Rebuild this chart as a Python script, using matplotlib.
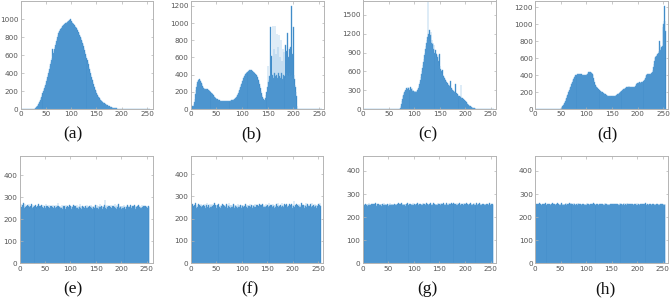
import matplotlib
matplotlib.use("Agg")
import matplotlib.pyplot as plt
import numpy as np

bins = list(range(256))

# (a)
a_counts = [0]*28 + [
    2, 5, 10, 15, 22, 28, 35, 42, 55, 65, 78, 90, 105, 120, 138, 155,
    178, 200, 218, 235, 255, 272, 290, 312, 335, 358, 380, 405, 428, 450, 475, 498,
    520, 540, 565, 665, 600, 620, 645, 668, 690, 712, 738, 758, 780, 800, 818, 840,
    852, 865, 878, 888, 895, 905, 912, 920, 925, 932, 940, 945, 948, 955, 960, 962,
    968, 972, 975, 978, 982, 990, 985, 998, 980, 975, 968, 960, 955, 948, 940, 932,
    925, 915, 908, 898, 888, 875, 862, 855, 840, 828, 812, 800, 788, 770, 752, 735,
    718, 700, 680, 660, 638, 615, 592, 570, 545, 522, 498, 472, 450, 425, 402, 380,
    358, 338, 318, 298, 278, 260, 242, 226, 210, 195, 180, 168, 157, 146, 137, 128,
    120, 112, 105, 99, 93, 88, 82, 77, 72, 68, 63, 59, 55, 51, 48, 44,
    41, 38, 35, 32, 29, 27, 24, 22, 20, 18, 16, 14, 13, 11, 10, 9,
    8, 7, 6, 5, 4, 4, 3, 3, 2, 2, 1, 1, 1] + [0]*55

# (b)
b_counts = [
    20, 25, 30, 32, 35, 40, 55, 80, 120, 170, 220, 260, 290, 315, 330, 340,
    345, 348, 340, 330, 315, 300, 285, 270, 258, 248, 240, 235, 232, 230, 232, 235,
    232, 228, 225, 222, 218, 212, 205, 198, 190, 183, 175, 168, 160, 152, 145, 138,
    132, 126, 120, 115, 111, 108, 105, 102, 100, 98, 96, 95, 94, 93, 92, 92,
    91, 91, 90, 90, 91, 92, 92, 93, 93, 94, 95, 96, 97, 98, 99, 100,
    101, 103, 105, 108, 112, 116, 120, 126, 133, 140, 150, 162, 175, 190, 205, 222,
    240, 258, 275, 292, 308, 325, 340, 355, 368, 380, 392, 402, 412, 420, 428, 435,
    440, 445, 448, 450, 452, 450, 448, 445, 440, 435, 430, 425, 418, 412, 405, 398,
    390, 380, 368, 352, 335, 315, 292, 268, 242, 215, 190, 165, 145, 128, 115, 105,
    100, 110, 130, 160, 200, 260, 500, 310, 340, 380, 360, 950, 420, 620, 380, 400,
    960, 360, 700, 420, 960, 380, 640, 400, 870, 360, 720, 420, 860, 380, 600, 360,
    800, 420, 560, 350, 700, 400, 660, 380, 740, 360, 680, 420, 880, 400, 600, 380,
    700, 420, 720, 380, 1200, 400, 640, 360, 950, 400, 350, 280, 260, 200, 150, 30] + [0]*48

# (c)
c_counts = [0]*73 + [
    10, 40, 80, 120, 160, 200, 230, 250, 270, 290, 300, 310, 330, 340, 320, 350,
    330, 340, 310, 350, 300, 320, 330, 290, 310, 280, 290, 275, 285, 270, 280, 275,
    290, 300, 320, 340, 370, 400, 430, 470, 510, 560, 600, 650, 700, 750, 800, 860,
    900, 950, 1000, 1050, 1100, 1150, 1730, 1200, 1120, 1260, 1080, 1180, 1230, 1060, 1100, 1030,
    1060, 960, 1020, 900, 940, 900, 880, 820, 830, 860, 770, 740, 870, 680, 640, 620,
    600, 580, 620, 540, 520, 510, 500, 480, 460, 450, 430, 420, 410, 400, 390, 380,
    370, 360, 450, 340, 330, 320, 310, 300, 290, 280, 275, 270, 400, 260, 250, 240,
    235, 225, 215, 210, 200, 190, 380, 180, 175, 170, 160, 155, 150, 140, 135, 125,
    115, 105, 95, 85, 75, 65, 58, 50, 45, 40, 35, 30, 26, 22, 19, 16,
    13, 11, 9, 7, 6, 5, 4, 3, 2, 2, 1] + [0]*28

# (d)
d_counts = [0]*50 + [
    5, 12, 20, 30, 40, 52, 64, 76, 88, 100, 115, 130, 148, 165, 180, 196,
    212, 228, 244, 260, 276, 292, 308, 324, 340, 352, 364, 375, 385, 395, 400, 405,
    410, 412, 415, 413, 410, 408, 412, 405, 410, 402, 406, 400, 405, 398, 402, 400,
    398, 402, 400, 410, 418, 425, 432, 435, 440, 442, 440, 435, 428, 420, 412, 400,
    370, 340, 320, 300, 285, 272, 265, 255, 248, 240, 234, 228, 222, 216, 210, 205,
    200, 196, 192, 188, 184, 180, 176, 172, 168, 164, 160, 158, 156, 154, 152, 150,
    150, 149, 148, 148, 147, 148, 148, 149, 150, 152, 153, 156, 160, 164, 168, 172,
    176, 180, 184, 190, 196, 202, 208, 214, 220, 225, 230, 236, 240, 243, 248, 252,
    256, 260, 262, 264, 265, 266, 265, 262, 260, 258, 258, 256, 258, 260, 262, 260,
    258, 262, 268, 280, 300, 305, 308, 310, 312, 315, 318, 315, 312, 318, 320, 318,
    318, 322, 330, 340, 355, 370, 388, 400, 415, 418, 415, 412, 410, 410, 415, 410,
    412, 420, 430, 440, 455, 490, 530, 570, 600, 610, 620, 630, 640, 650, 650, 660,
    680, 800, 760, 690, 720, 730, 700, 740, 965, 1000, 1040, 1220, 1040, 925]

# (e)
e_counts = [
    248, 262, 255, 270, 258, 251, 266, 259, 275, 263, 252, 268, 257, 249, 261, 254,
    265, 250, 259, 271, 256, 247, 262, 253, 268, 258, 250, 264, 255, 243, 260, 266,
    252, 258, 249, 263, 256, 270, 251, 259, 246, 262, 255, 267, 250, 258, 264, 253,
    247, 261, 256, 252, 268, 259, 250, 263, 245, 257, 266, 254, 249, 260, 255, 262,
    251, 258, 267, 253, 248, 261, 257, 250, 264, 256, 252, 259, 273, 260, 248, 255,
    263, 250, 258, 254, 266, 249, 257, 262, 251, 259, 246, 264, 255, 250, 261, 256,
    258, 252, 265, 249, 260, 255, 247, 263, 257, 251, 266, 253, 259, 248, 262, 256,
    250, 264, 254, 258, 247, 261, 255, 268, 252, 259, 249, 257, 263, 251, 256, 260,
    254, 247, 262, 258, 250, 265, 253, 259, 256, 248, 263, 251, 257, 266, 252, 260,
    249, 258, 255, 262, 251, 267, 256, 250, 264, 253, 259, 247, 261, 255, 270, 258,
    252, 260, 255, 249, 263, 256, 251, 266, 289, 254, 261, 248, 265, 257, 252, 260,
    255, 262, 250, 258, 266, 253, 249, 261, 257, 263, 251, 256, 270, 254, 259, 248,
    264, 255, 252, 268, 257, 250, 262, 256, 259, 247, 263, 253, 260, 251, 266, 255,
    249, 261, 257, 253, 265, 250, 258, 262, 255, 248, 264, 259, 252, 257, 261, 254,
    260, 251, 267, 256, 249, 263, 258, 252, 259, 255, 265, 250, 257, 262, 253, 258,
    250, 264, 256, 252, 261, 248, 259, 255, 263, 251, 257, 260, 254, 249, 262, 256]

# (f)
f_counts = [
    258, 247, 263, 251, 266, 255, 249, 260, 253, 268, 257, 246, 262, 254, 250, 265,
    253, 261, 248, 257, 264, 250, 259, 255, 247, 263, 252, 258, 266, 249, 256, 262,
    271, 254, 250, 262, 257, 248, 265, 253, 259, 251, 264, 256, 247, 260, 255, 268,
    252, 259, 263, 249, 256, 261, 250, 266, 254, 258, 247, 262, 255, 251, 267, 257,
    260, 248, 255, 263, 251, 258, 264, 253, 249, 261, 256, 269, 252, 259, 246, 263,
    254, 262, 250, 257, 265, 252, 248, 260, 256, 263, 251, 258, 247, 266, 254, 259,
    250, 257, 263, 253, 248, 261, 255, 262, 251, 258, 246, 264, 256, 252, 260, 249,
    262, 255, 251, 258, 265, 250, 257, 263, 253, 248, 261, 256, 259, 252, 266, 254,
    249, 260, 256, 263, 251, 257, 248, 264, 255, 259, 252, 262, 250, 267, 256, 253,
    261, 254, 258, 250, 265, 256, 249, 262, 257, 252, 268, 255, 260, 248, 263, 257,
    251, 266, 255, 259, 249, 262, 254, 258, 264, 250, 257, 271, 253, 260, 256, 249,
    263, 257, 252, 268, 255, 261, 250, 258, 264, 253, 259, 247, 266, 256, 251, 262,
    257, 250, 264, 255, 260, 252, 267, 258, 249, 263, 256, 279, 254, 261, 251, 266,
    255, 262, 249, 258, 265, 253, 260, 251, 257, 268, 254, 259, 250, 263, 256, 248,
    262, 256, 270, 252, 259, 265, 251, 257, 262, 255, 249, 264, 258, 253, 269, 256,
    250, 263, 257, 252, 266, 255, 260, 249, 262, 258, 254, 264, 251, 259, 268, 255]

# (g)
g_counts = [
    252, 255, 249, 256, 253, 258, 251, 254, 257, 250, 255, 253, 259, 252, 256, 254,
    250, 257, 253, 255, 251, 258, 254, 256, 252, 259, 253, 250, 257, 255, 252, 256,
    254, 251, 258, 253, 256, 250, 255, 257, 252, 254, 259, 251, 256, 253, 258, 252,
    255, 253, 250, 257, 254, 259, 252, 256, 251, 255, 253, 258, 254, 250, 257, 255,
    253, 256, 252, 258, 255, 251, 262, 254, 257, 253, 256, 252, 259, 255, 251, 257,
    254, 258, 253, 255, 250, 257, 256, 252, 259, 254, 251, 256, 253, 258, 255, 252,
    256, 253, 259, 254, 252, 257, 255, 251, 258, 256, 253, 260, 254, 252, 257, 255,
    253, 258, 255, 251, 257, 254, 259, 256, 252, 255, 258, 253, 256, 261, 254, 257,
    255, 252, 258, 256, 253, 259, 254, 257, 252, 256, 260, 253, 255, 258, 254, 256,
    252, 257, 254, 259, 255, 253, 258, 256, 252, 261, 255, 254, 257, 253, 259, 256,
    254, 258, 253, 256, 260, 255, 252, 257, 254, 259, 256, 253, 258, 255, 262, 254,
    256, 253, 259, 255, 252, 258, 256, 254, 260, 253, 257, 255, 252, 259, 256, 254,
    253, 257, 255, 258, 254, 252, 259, 256, 253, 257, 255, 261, 254, 258, 256, 253,
    257, 255, 252, 259, 256, 254, 258, 253, 257, 255, 260, 254, 256, 253, 263, 255,
    254, 258, 256, 253, 259, 255, 252, 257, 254, 256, 258, 253, 255, 257, 254, 256,
    253, 256, 258, 254, 255, 257, 253, 256, 259, 254, 252, 255, 257, 254, 256, 253]

# (h)
h_counts = [
    253, 256, 251, 257, 254, 258, 252, 255, 253, 259, 251, 256, 254, 252, 257, 255,
    252, 258, 254, 256, 253, 259, 255, 252, 257, 254, 256, 253, 258, 255, 252, 257,
    255, 253, 259, 254, 257, 252, 256, 258, 253, 255, 257, 254, 260, 253, 256, 254,
    254, 257, 253, 256, 259, 255, 252, 258, 254, 257, 253, 256, 255, 259, 254, 257,
    256, 253, 258, 255, 261, 254, 257, 263, 255, 258, 256, 253, 259, 255, 257, 254,
    253, 258, 256, 254, 259, 255, 252, 257, 254, 256, 258, 253, 255, 257, 254, 256,
    255, 252, 257, 254, 256, 253, 259, 255, 252, 258, 256, 253, 257, 255, 254, 258,
    254, 257, 255, 259, 253, 256, 258, 254, 256, 253, 255, 257, 254, 252, 256, 255,
    257, 254, 256, 253, 258, 255, 252, 257, 254, 259, 256, 253, 255, 258, 254, 256,
    253, 256, 254, 258, 255, 252, 257, 254, 256, 253, 258, 255, 257, 254, 256, 253,
    256, 254, 258, 255, 253, 257, 254, 262, 256, 255, 258, 253, 257, 255, 259, 254,
    254, 257, 255, 253, 259, 256, 254, 258, 255, 257, 253, 256, 254, 258, 255, 257,
    255, 253, 258, 256, 254, 257, 255, 253, 259, 254, 256, 258, 255, 253, 257, 255,
    253, 257, 255, 258, 254, 256, 253, 257, 255, 259, 254, 256, 258, 255, 253, 257,
    256, 254, 257, 255, 253, 258, 256, 254, 257, 255, 253, 256, 254, 258, 255, 253,
    255, 257, 254, 256, 253, 255, 258, 254, 256, 253, 257, 255, 254, 256, 253, 255]

labels = ["(a)", "(b)", "(c)", "(d)", "(e)", "(f)", "(g)", "(h)"]
x_ticks = [0, 50, 100, 150, 200, 250]
y_ticks_list = [
    [0, 200, 400, 600, 800, 1000],
    [0, 200, 400, 600, 800, 1000, 1200],
    [0, 300, 600, 900, 1200, 1500],
    [0, 200, 400, 600, 800, 1000, 1200],
    [0, 100, 200, 300, 400],
    [0, 100, 200, 300, 400],
    [0, 100, 200, 300, 400],
    [0, 100, 200, 300, 400],
]
all_counts = [a_counts, b_counts, c_counts, d_counts,
              e_counts, f_counts, g_counts, h_counts]
for cnt in all_counts:
    assert len(cnt) == 256, len(cnt)

W, H = 670, 301
fig = plt.figure(figsize=(W / 100, H / 100), dpi=100)

# pixel boxes (left, top, right, bottom)
boxes = [
    (20.5, 0.5, 153, 109), (190.7, 0.5, 324.3, 109), (363.3, 0.5, 496, 109), (535.3, 0.5, 668.3, 109),
    (19.5, 155.7, 152.7, 263.3), (190.7, 155.7, 323.3, 263.3), (362.7, 155.7, 495.7, 263.3), (535, 155.7, 667.7, 263.3),
]
ylims = [1207, 1262, 1730, 1279, 490, 482, 466, 466]
xlims = [262, 260, 260, 260, 262, 260, 260, 260]
label_pos = [(73, 134.5), (251, 134.5), (428, 134.5), (607, 134.5),
             (73, 289), (250, 289), (427, 289), (605, 289)]

bar_color = "#2a79ba"
spine_color = "#b4b4b4"
tick_color = "#555555"

for i, (l, t, r, b) in enumerate(boxes):
    ax = fig.add_axes([l / W, 1 - b / H, (r - l) / W, (b - t) / H])
    ax.bar(bins, all_counts[i], width=1.0, color=bar_color,
           edgecolor="#63a7dc", linewidth=0.3)
    ax.set_xlim(0, xlims[i])
    ax.set_ylim(0, ylims[i])
    ax.set_xticks(x_ticks)
    ax.set_yticks(y_ticks_list[i])
    ax.tick_params(direction="in", length=1.8, width=0.5, labelsize=5.2,
                   colors=spine_color, labelcolor=tick_color, pad=1.6,
                   top=True, right=True)
    for s in ax.spines.values():
        s.set_color(spine_color)
        s.set_linewidth(0.7)
    fx, fy = label_pos[i]
    fig.text(fx / W, 1 - fy / H, labels[i], ha="center", va="center",
             family="Liberation Serif", fontsize=12.5, color="#111111")

fig.savefig("out.png", dpi=100)
